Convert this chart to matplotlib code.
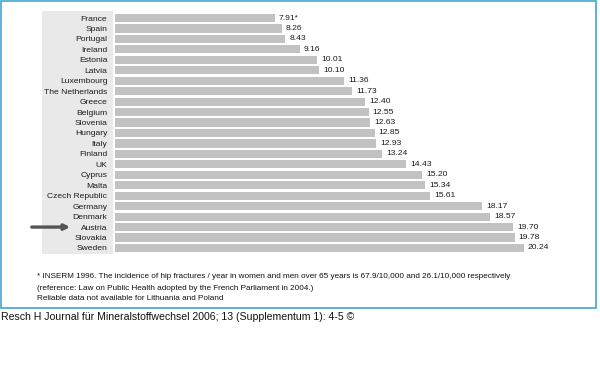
import matplotlib
matplotlib.use("Agg")
import matplotlib.pyplot as plt
from matplotlib.patches import Rectangle

countries = ["France", "Spain", "Portugal", "Ireland", "Estonia", "Latvia", "Luxembourg",
             "The Netherlands", "Greece", "Belgium", "Slovenia", "Hungary", "Italy", "Finland",
             "UK", "Cyprus", "Malta", "Czech Republic", "Germany", "Denmark", "Austria",
             "Slovakia", "Sweden"]
values = [7.91, 8.26, 8.43, 9.16, 10.01, 10.10, 11.36, 11.73, 12.40, 12.55, 12.63, 12.85,
          12.93, 13.24, 14.43, 15.20, 15.34, 15.61, 18.17, 18.57, 19.70, 19.78, 20.24]
value_labels = ["7.91*"] + ["%.2f" % v for v in values[1:]]
highlight = "Austria"

footnote = ["* INSERM 1996. The incidence of hip fractures / year in women and men over 65 years is 67.9/10,000 and 26.1/10,000 respectively",
            "(reference: Law on Public Health adopted by the French Parliament in 2004.)",
            "Reliable data not available for Lithuania and Poland"]
citation = "Resch H Journal für Mineralstoffwechsel 2006; 13 (Supplementum 1): 4-5 ©"

W, H = 600, 371
fig = plt.figure(figsize=(W / 100, H / 100), dpi=100)
plt.rcParams['font.family'] = ['Liberation Sans', 'DejaVu Sans']

def fx(px):
    return px / W

def fy(py):
    return 1 - py / H

# blue frame
fig.add_artist(Rectangle((fx(1), fy(308)), fx(595), 307 / H, transform=fig.transFigure,
                         fill=False, edgecolor="#3fa6cf", linewidth=1.2))
# label panel
fig.add_artist(Rectangle((fx(42), fy(254)), fx(71), 243 / H, transform=fig.transFigure,
                         facecolor="#e9e9e9", edgecolor="none", zorder=0))

n = len(countries)
ax = fig.add_axes([fx(115), fy(253.2), fx(460), 240.4 / H])
ax.patch.set_alpha(0)
pos = list(range(n))
ax.barh(pos, values, height=0.78, color="#c2c2c2")
ax.set_xlim(0, 460 / 20.2)
ax.set_ylim(n - 0.5, -0.5)
for i in pos:
    ax.text(values[i] + 0.2, i, value_labels[i], va="center", ha="left", fontsize=6.1, color="#1a1a1a")
ax.set_yticks(pos)
ax.set_yticklabels(countries, fontsize=6.1, color="#1a1a1a")
ax.tick_params(axis="y", length=0, pad=5.5)
ax.set_xticks([])
for s in ax.spines.values():
    s.set_visible(False)

ax.annotate("", xy=(73, countries.index(highlight)), xycoords=("figure pixels", "data"),
            xytext=(29, countries.index(highlight)), textcoords=("figure pixels", "data"),
            arrowprops=dict(arrowstyle="-|>", color="#555555", lw=2.4, mutation_scale=8))

for k, line in enumerate(footnote):
    fig.text(fx(37), fy(277 + k * 11), line, fontsize=5.9, va="center", ha="left", color="#111111")
fig.text(fx(1), fy(317), citation, fontsize=7.6, va="center", ha="left", color="#111111")

fig.savefig("out.png", dpi=100, facecolor="white")
